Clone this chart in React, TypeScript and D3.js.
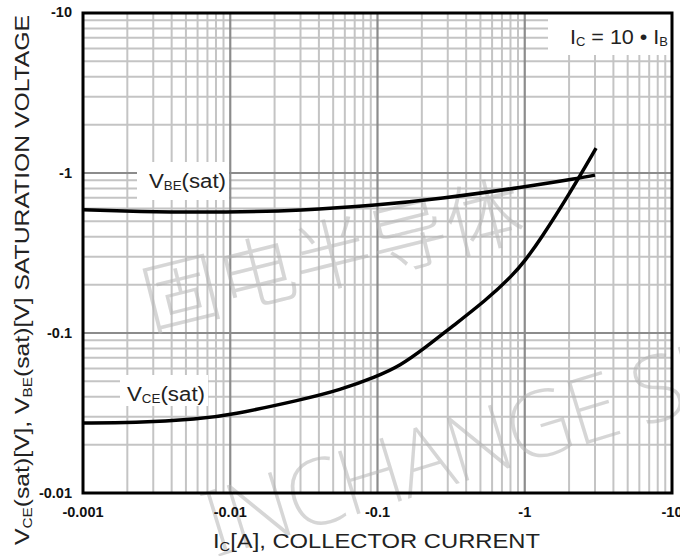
import React from 'react';
import * as d3 from 'd3';

// decade ticks (magnitudes; labels shown with minus sign)
const xDecades = [0.001, 0.01, 0.1, 1, 10];
const xTickLabels = ['-0.001', '-0.01', '-0.1', '-1', '-10'];
const yDecades = [0.01, 0.1, 1, 10];
const yTickLabels = ['-0.01', '-0.1', '-1', '-10'];

// VCE(sat) curve, Ic [A] -> V
const vceIc = [0.001, 0.0022, 0.0062, 0.01, 0.03, 0.056, 0.098, 0.142, 0.21, 0.31, 0.55, 0.83, 1.0, 1.27, 2.03, 3.05];
const vceV = [0.0274, 0.0274, 0.029, 0.0307, 0.0381, 0.0441, 0.0533, 0.0622, 0.0806, 0.107, 0.161, 0.23, 0.282, 0.381, 0.75, 1.43];

// VBE(sat) curve
const vbeIc = [0.001, 0.0022, 0.01, 0.03, 0.1, 0.26, 1, 2.37, 3.0];
const vbeV = [0.59, 0.573, 0.568, 0.583, 0.63, 0.688, 0.818, 0.93, 0.97];

const W = 680;
const H = 556;
const left = 83, right = 672, top = 13, bottom = 493;

const App = () => {
  const x = d3.scaleLog().domain([0.001, 10]).range([left, right]);
  const y = d3.scaleLog().domain([0.01, 10]).range([bottom, top]);

  const minorX: number[] = [];
  xDecades.slice(0, -1).forEach(d => { for (let k = 2; k <= 9; k++) minorX.push(d * k); });
  const minorY: number[] = [];
  yDecades.slice(0, -1).forEach(d => { for (let k = 2; k <= 9; k++) minorY.push(d * k); });

  const line = d3.line<[number, number]>()
    .x(d => x(d[0]))
    .y(d => y(d[1]))
    .curve(d3.curveBasis);

  const vcePts = vceIc.map((c, i) => [c, vceV[i]] as [number, number]);
  const vbePts = vbeIc.map((c, i) => [c, vbeV[i]] as [number, number]);

  const minorColor = '#c4c4c4';
  const majorColor = '#8c8c8c';
  const font = 'Liberation Sans, Arial, sans-serif';
  const sub = 12;

  return (
    <svg width={W} height={H} style={{ position: 'absolute', left: 0, top: 0, background: '#fff' }}
      fontFamily={font}>
      <rect x={0} y={0} width={W} height={H} fill="#fff" />
      {/* minor grid */}
      {minorX.map((v, i) => (
        <line key={'mx' + i} x1={x(v)} x2={x(v)} y1={top} y2={bottom} stroke={minorColor} strokeWidth={2} />
      ))}
      {minorY.map((v, i) => (
        <line key={'my' + i} y1={y(v)} y2={y(v)} x1={left} x2={right} stroke={minorColor} strokeWidth={2} />
      ))}
      {/* major grid */}
      {xDecades.slice(1, -1).map((v, i) => (
        <line key={'Mx' + i} x1={x(v)} x2={x(v)} y1={top} y2={bottom} stroke={majorColor} strokeWidth={2.2} />
      ))}
      {yDecades.slice(1, -1).map((v, i) => (
        <line key={'My' + i} y1={y(v)} y2={y(v)} x1={left} x2={right} stroke={majorColor} strokeWidth={2.2} />
      ))}

      {/* label boxes knock out the grid */}
      <rect x={137} y={162} width={92} height={38} fill="#fff" />
      <rect x={120} y={375} width={88} height={31} fill="#fff" />
      <rect x={548} y={top} width={right - 548} height={42} fill="#fff" />

      {/* watermarks */}
      <g fill="#b4b4b4" fillOpacity={0.55} fontWeight={200}>
        <text transform="translate(150,330) rotate(-14)" fontSize={78}
          fontFamily="Noto Sans CJK SC, sans-serif">固电半导体</text>
        <text transform="translate(214,558) rotate(-17)" fontSize={92}
          fontFamily="Noto Sans, Liberation Sans, sans-serif" letterSpacing={-3}>INCHANGE SE</text>
      </g>

      {/* curves */}
      <path d={line(vbePts) ?? ''} fill="none" stroke="#000" strokeWidth={3.5} />
      <path d={line(vcePts) ?? ''} fill="none" stroke="#000" strokeWidth={3.5} />

      {/* frame */}
      <rect x={left} y={top} width={right - left} height={bottom - top} fill="none" stroke="#000" strokeWidth={3} />

      {/* tick labels */}
      {yDecades.map((v, i) => (
        <text key={'yl' + i} x={left - 11} y={y(v)} dy={i === yDecades.length - 1 ? 4 : 5} textAnchor="end"
          fontSize={14.5} fontWeight="bold" fill="#111">{yTickLabels[i]}</text>
      ))}
      {xDecades.map((v, i) => (
        <text key={'xl' + i} x={x(v)} y={517} textAnchor="middle"
          fontSize={14.5} fontWeight="bold" fill="#111">{xTickLabels[i]}</text>
      ))}

      {/* curve labels */}
      <text x={149} y={188} fontSize={20} fill="#222" textLength={77} lengthAdjust="spacingAndGlyphs">
        V<tspan fontSize={sub} dy={2}>BE</tspan><tspan dy={-2}>(sat)</tspan>
      </text>
      <text x={127} y={401} fontSize={20} fill="#222" textLength={78} lengthAdjust="spacingAndGlyphs">
        V<tspan fontSize={sub} dy={2}>CE</tspan><tspan dy={-2}>(sat)</tspan>
      </text>
      <text x={570} y={44} fontSize={20} fill="#222" textLength={98} lengthAdjust="spacingAndGlyphs">
        I<tspan fontSize={sub} dy={2}>C</tspan><tspan dy={-2}> = 10 • I</tspan><tspan fontSize={sub} dy={2}>B</tspan>
      </text>

      {/* axis titles */}
      <text x={213} y={548} fontSize={21} fill="#222" textLength={327} lengthAdjust="spacingAndGlyphs">
        I<tspan fontSize={13} dy={3}>C</tspan><tspan dy={-3}>[A], COLLECTOR CURRENT</tspan>
      </text>
      <text transform="translate(29,545) rotate(-90)" fontSize={21} fill="#222" textLength={530} lengthAdjust="spacingAndGlyphs">
        V<tspan fontSize={13} dy={3}>CE</tspan><tspan dy={-3}>(sat)[V], V</tspan><tspan fontSize={13} dy={3}>BE</tspan><tspan dy={-3}>(sat)[V]  SATURATION VOLTAGE</tspan>
      </text>
    </svg>
  );
};

export default App;
